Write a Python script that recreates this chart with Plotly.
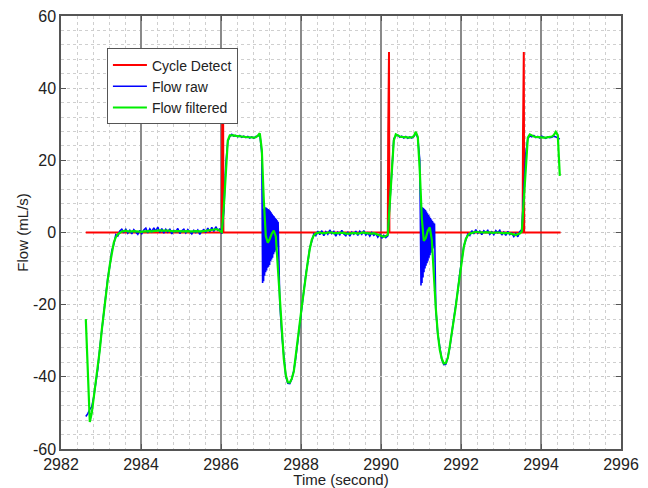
import numpy as np
import plotly.graph_objects as go

# ---------------- data ----------------
t_start = 2982.62
t_step = 0.05

flow_filtered = [
    -24, -40, -52.5, -50, -46, -42, -37.5, -32.5, -27, -22,
    -17.5, -13, -9, -5.5, -2.8, -1.3, -0.5, -0.1, 0.3, 0.4,
    0.5, 0.3, 0.2, 0.3, 0.4, 0.3, 0.2, 0.1, 0.2, 0.3,
    0.4, 0.5, 0.4, 0.3, 0.4, 0.6, 0.7, 0.6, 0.5, 0.4,
    0.5, 0.5, 0.4, 0.3, 0.3, 0.4, 0.5, 0.4, 0.3, 0.4,
    0.5, 0.4, 0.3, 0.2, 0.3, 0.4, 0.3, 0.2, 0.3, 0.4,
    0.5, 0.6, 0.5, 0.7, 0.8, 0.9, 0.8, 0.5,
    0.1, 7, 18, 25.5, 26.9,
    27.0, 26.9, 26.8, 26.7, 26.7, 26.6, 26.6,
    26.5, 26.4, 26.4, 26.3, 26.3, 26.4, 26.8,
    27.5, 23, 9, -1.0, -2.8, -1.8, -0.3, 0.5, -1.0,
    -9, -19, -28, -35, -39.5, -41.5, -41.6, -40.5, -38.5, -34.5,
    -30, -25, -20.5, -16, -12, -8, -4.5, -2, -0.8, -0.3,
    -0.1, 0.0, -0.2, -0.3, -0.2, 0.0, 0.1, 0.0, -0.2, -0.3,
    -0.2, -0.1, 0.0, -0.1, -0.3, -0.4, -0.3, -0.2, -0.1, -0.2,
    -0.3, -0.2, -0.1, 0.0, -0.2, -0.3, -0.4, -0.3, -0.2, -0.4,
    -0.6, -0.8, -1.0, -1.2, -1.0,
    -0.6, 8, 18, 25.5, 27.2,
    26.8, 26.6, 26.5, 26.4, 26.4, 26.3, 26.3, 26.4, 26.7,
    27.9, 26.5, 17, 4, -2.3, -1.5, 0.5, 1.4, -2,
    -12, -21, -28, -32.5, -35, -36.3, -36.2, -34.8, -31.5, -28,
    -24, -20.5, -16, -11.5, -7.5, -4, -1.8, -0.8, -0.3,
    -0.1, 0.1, 0.2, 0.1, 0.0, -0.1, 0.0, 0.1, 0.0, -0.1,
    -0.2, -0.1, 0.0, 0.1, 0.0, -0.2, -0.3, -0.2, -0.1, -0.2,
    -0.4, -0.6, -0.7, -0.5, -0.3,
    0.3, 9, 20, 26.3, 27.2,
    26.8, 26.6, 26.5, 26.4, 26.4, 26.4, 26.3, 26.3, 26.4, 26.4, 26.6,
    27.0, 27.9, 27.0, 15.7,
]

flow_raw = [
    -51, -50.2, -49, -48.3, -45.5, -41.5, -37.8, -32, -27.3, -21.6,
    -17.8, -12.6, -9.3, -5.0, -3.3, -0.6, -1.0, 0.4, 0.9, 0.1,
    0.9, -0.2, 0.6, -0.4, 0.8, 0.1, -0.5, 0.6, -0.3, 0.7,
    1.2, -0.1, 1.0, 0.2, 1.3, 0.4, 1.5, 0.0, 1.1, -0.2,
    0.9, 0.1, 1.0, -0.4, 0.6, 0.2, 1.1, -0.3, 0.5, 0.9,
    -0.1, 0.8, 0.3, -0.4, 0.6, 0.0, 0.7, -0.5, 0.4, 0.8,
    0.0, 1.2, 0.2, 1.4, 0.3, 1.6, 0.6, 1.0,
    -0.3, 6, 19, 25.2, 26.6,
    27.2, 26.7, 26.9, 26.5, 26.9, 26.4, 26.7,
    26.3, 26.6, 26.2, 26.5, 26.1, 26.6, 26.7,
    27.3, 22, -14, 7, -12.5, 6.5, -10, 5, -7,
    3, -19.5, -28.3, -35.2, -39.8, -41.8, -41.9, -40.6, -38.3, -34.7,
    -29.8, -25.3, -20.2, -16.3, -11.7, -8.3, -4.2, -2.4, -0.4, -0.9,
    0.4, -0.6, 0.5, -0.9, 0.2, -0.5, 0.7, -0.3, 0.3, -1.0,
    0.1, -0.6, 0.6, -0.4, -0.9, 0.2, -1.0, 0.1, -0.5, 0.4,
    -0.8, 0.3, -0.5, 0.5, -0.7, -0.1, -1.0, 0.0, -0.8, -0.3,
    -1.3, -0.4, -1.6, -0.8, -1.4,
    -0.9, 9, 19, 26, 26.8,
    27.0, 26.4, 26.7, 26.2, 26.6, 26.1, 26.5, 26.2, 26.6,
    27.5, 26.2, 20, -14.5, 7, -12, 6, -8.5, 3.5,
    -12, -21.3, -28.2, -32.3, -35.2, -36.6, -36.5, -34.6, -31.8, -27.8,
    -24.2, -20.3, -16.2, -11.3, -7.7, -3.8, -2.1, -0.4, -0.8,
    0.5, -0.4, 0.8, -0.2, 0.4, -0.6, 0.5, 0.0, 0.6, -0.5,
    0.2, -0.6, 0.5, -0.1, 0.6, -0.7, 0.1, -0.8, 0.3, -0.6,
    -0.2, -1.1, -0.3, -1.2, 0.2,
    0.8, 11, 22, 26.0, 26.8,
    26.5, 26.9, 26.3, 26.6, 26.2, 26.7, 26.4, 26.1, 26.5, 26.3, 26.4,
    26.7, 26.5, 26.3, 25.9,
]

# high-rate raw bursts (valve ringing), sampled every burst_step seconds
burst_step = 0.0125
burst1_start = 2987.04
burst1_raw = [
    -14, 6.5, -13.5, 6.8, -12, 7.0, -11, 6.9, -10.5, 6.7,
    -9.8, 6.5, -9.5, 6.3, -9, 6.0, -8, 5.6, -7.5, 5.2,
    -7, 4.8, -6, 4.5, -5.5, 4.1, -5, 3.8, -4.5, 3.4,
    -4, 3.0,
]
burst2_start = 2991.00
burst2_raw = [
    -14.7, 6.9, -14, 7.0, -12.5, 6.8, -11, 6.5, -10, 6.2,
    -9.2, 5.8, -8.5, 5.3, -7.8, 4.9, -7, 4.4, -6.3, 4.0,
    -5.6, 3.6, -5, 3.2, -4.4, 2.8, -3.8, 2.5,
]

cycle_t = [2982.62, 2986.02, 2986.03, 2986.05, 2986.06,
           2990.17, 2990.18, 2990.20, 2990.21,
           2993.54, 2993.55, 2993.57, 2993.58, 2994.49]
cycle_v = [0, 0, 27, 50, 0,
           0, 27, 50, 0,
           0, 27, 50, 0, 0]

x_ticks = [2982, 2984, 2986, 2988, 2990, 2992, 2994, 2996]
y_ticks = [-60, -40, -20, 0, 20, 40, 60]

# ---------------- assemble sample times ----------------
sample_time = np.round(t_start + t_step * np.arange(len(flow_raw)), 4)
filt_time = np.round(t_start + t_step * np.arange(len(flow_filtered)), 4)

b1_t = burst1_start + burst_step * np.arange(len(burst1_raw))
b2_t = burst2_start + burst_step * np.arange(len(burst2_raw))
raw_arr = np.array(flow_raw, dtype=float)
keep = ~(((sample_time >= b1_t[0]) & (sample_time <= b1_t[-1])) |
         ((sample_time >= b2_t[0]) & (sample_time <= b2_t[-1])))
raw_t = np.concatenate([sample_time[keep], b1_t, b2_t])
raw_v = np.concatenate([raw_arr[keep], burst1_raw, burst2_raw])
order = np.argsort(raw_t, kind="stable")
raw_t, raw_v = raw_t[order], raw_v[order]

FONT = "Liberation Sans, Arial, sans-serif"
TXT = "#222222"

fig = go.Figure()
fig.add_trace(go.Scatter(x=cycle_t, y=cycle_v, mode="lines", name="Cycle Detect",
                         line=dict(color="#ff0000", width=2)))
fig.add_trace(go.Scatter(x=raw_t, y=raw_v, mode="lines", name="Flow raw",
                         line=dict(color="#0000ff", width=1.6)))
fig.add_trace(go.Scatter(x=filt_time, y=flow_filtered, mode="lines", name="Flow filtered",
                         line=dict(color="#00ee00", width=2.2)))

# the page body has an 8px margin, so the figure is sized to fit the window
fig.update_layout(
    width=640, height=480,
    margin=dict(l=53, r=27, t=8, b=39, autoexpand=False),
    paper_bgcolor="white", plot_bgcolor="white",
    font=dict(family=FONT, size=15, color=TXT),
    showlegend=True,
    legend=dict(x=0.082, y=0.925, xanchor="left", yanchor="top",
                bgcolor="white", bordercolor="#555555", borderwidth=1,
                font=dict(family=FONT, size=14, color=TXT),
                tracegroupgap=0, itemwidth=34),
)
fig.update_xaxes(
    range=[2982, 2996], tickvals=x_ticks, ticktext=[str(v) for v in x_ticks],
    showgrid=True, gridcolor="#8a8a8a", gridwidth=1.5,
    minor=dict(dtick=0.4, tick0=2982, showgrid=True, gridcolor="#cfcfcf", griddash="dot", gridwidth=1),
    ticks="inside", ticklen=5, tickcolor="#555555",
    showline=True, linecolor="#555555", linewidth=1.5, mirror="ticks",
    zeroline=False, automargin=False, ticklabeloverflow="allow",
    title=dict(text="Time (second)", font=dict(size=15, color=TXT), standoff=2),
    tickfont=dict(size=16, color=TXT),
)
fig.update_yaxes(
    range=[-60, 60], tickvals=y_ticks, ticktext=[str(v) for v in y_ticks],
    showgrid=True, gridcolor="#c8c8c8", griddash="dot", gridwidth=1,
    minor=dict(dtick=4, tick0=0, showgrid=True, gridcolor="#cfcfcf", griddash="dot", gridwidth=1),
    ticks="inside", ticklen=5, tickcolor="#555555",
    showline=True, linecolor="#555555", linewidth=1.5, mirror="ticks",
    zeroline=False, automargin=False, ticklabeloverflow="allow",
    title=dict(text="Flow (mL/s)", font=dict(size=15, color=TXT), standoff=1),
    tickfont=dict(size=16, color=TXT),
)

fig.write_html("out.html")
